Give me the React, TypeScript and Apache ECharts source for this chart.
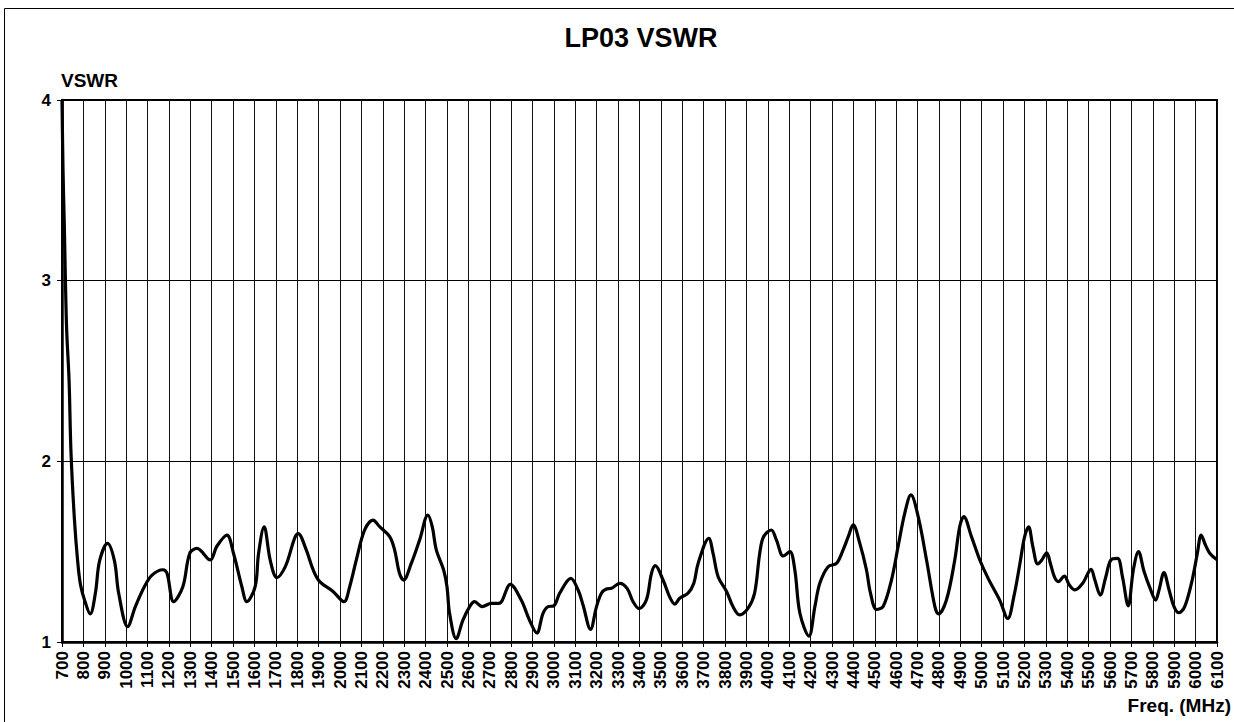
import React, { useEffect, useRef } from "react";
import * as echarts from "echarts";

const title = "LP03 VSWR";
const yName = "VSWR";
const xName = "Freq. (MHz)";

const freq = [
  700, 705, 711, 716, 722, 733, 742, 758, 773, 786, 806, 832, 856, 876, 913, 945, 965, 1007,
  1043, 1085, 1121, 1172, 1191, 1222, 1265, 1297, 1331, 1393, 1424, 1471, 1502, 1541, 1564,
  1603, 1619, 1645, 1674, 1705, 1744, 1805, 1842, 1874, 1905, 1967, 2018, 2045, 2076, 2115,
  2154, 2185, 2232, 2255, 2278, 2297, 2333, 2372, 2411, 2431, 2450, 2484, 2500, 2512, 2543,
  2574, 2606, 2629, 2665, 2707, 2743, 2796, 2847, 2886, 2920, 2949, 2973, 2999, 3027, 3079,
  3113, 3136, 3171, 3199, 3222, 3245, 3269, 3308, 3342, 3370, 3398, 3432, 3456, 3474, 3510,
  3541, 3565, 3588, 3627, 3654, 3674, 3724, 3744, 3768, 3807, 3837, 3868, 3907, 3938, 3962,
  3980, 4016, 4040, 4072, 4103, 4126, 4150, 4192, 4220, 4243, 4282, 4321, 4352, 4376, 4399,
  4430, 4461, 4480, 4508, 4539, 4578, 4609, 4640, 4669, 4703, 4742, 4781, 4798, 4835, 4874,
  4897, 4916, 4952, 4991, 5030, 5084, 5122, 5150, 5178, 5200, 5219, 5239, 5262, 5281, 5304,
  5321, 5340, 5358, 5386, 5410, 5436, 5472, 5511, 5529, 5554, 5580, 5604, 5635, 5658, 5685,
  5709, 5733, 5759, 5790, 5813, 5829, 5852, 5876, 5899, 5922, 5949, 5984, 6008, 6026, 6046,
  6067, 6100,
];

const vswr = [
  4.0, 3.6, 3.3, 3.0, 2.72, 2.45, 2.05, 1.68, 1.45, 1.32, 1.23, 1.155, 1.27, 1.45, 1.546, 1.45,
  1.27, 1.085, 1.196, 1.306, 1.37, 1.4, 1.38, 1.223, 1.306, 1.49, 1.518, 1.454, 1.53, 1.592,
  1.49, 1.306, 1.223, 1.306, 1.49, 1.638, 1.45, 1.356, 1.417, 1.6, 1.51, 1.4, 1.334, 1.28,
  1.223, 1.306, 1.454, 1.62, 1.675, 1.638, 1.583, 1.51, 1.38, 1.343, 1.435, 1.565, 1.703,
  1.638, 1.51, 1.4, 1.306, 1.159, 1.018, 1.12, 1.196, 1.223, 1.196, 1.214, 1.214, 1.319,
  1.232, 1.12, 1.05, 1.159, 1.196, 1.2, 1.27, 1.352, 1.288, 1.205, 1.07, 1.196, 1.27, 1.293,
  1.297, 1.325, 1.297, 1.223, 1.185, 1.232, 1.38, 1.4225, 1.343, 1.25, 1.21, 1.242, 1.27,
  1.325, 1.435, 1.574, 1.49, 1.36, 1.28, 1.196, 1.15, 1.186, 1.27, 1.49, 1.583, 1.62, 1.565,
  1.476, 1.5, 1.4, 1.159, 1.033, 1.196, 1.325, 1.417, 1.435, 1.51, 1.583, 1.648, 1.546, 1.4,
  1.27, 1.18, 1.196, 1.343, 1.528, 1.712, 1.814, 1.694, 1.454, 1.196, 1.155, 1.232, 1.454,
  1.638, 1.694, 1.583, 1.454, 1.352, 1.232, 1.13, 1.25, 1.43, 1.58, 1.638, 1.528, 1.432,
  1.454, 1.494, 1.435, 1.36, 1.334, 1.365, 1.315, 1.288, 1.325, 1.402, 1.343, 1.26, 1.36,
  1.454, 1.463, 1.36, 1.2, 1.4, 1.5, 1.39, 1.288, 1.232, 1.288, 1.384, 1.288, 1.196, 1.162,
  1.196, 1.343, 1.49, 1.592, 1.537, 1.49, 1.455,
];

const FONT = "Arial, 'Liberation Sans', sans-serif";

export default function App() {
  const ref = useRef<HTMLDivElement>(null);

  useEffect(() => {
    if (!ref.current) return;
    const chart = echarts.init(ref.current, null, { renderer: "svg" });
    const data = freq.map((f, i) => [f, vswr[i]]);
    chart.setOption({
      animation: false,
      backgroundColor: "#ffffff",
      textStyle: { fontFamily: FONT },
      grid: {
        left: 62,
        top: 100,
        width: 1155,
        height: 542,
        show: true,
        borderColor: "#000",
        borderWidth: 2,
        backgroundColor: "transparent",
      },
      xAxis: {
        type: "value",
        min: 700,
        max: 6100,
        interval: 100,
        axisLine: { show: true, lineStyle: { color: "#000", width: 2.5 } },
        axisTick: { show: true, inside: false, length: 5, lineStyle: { color: "#000", width: 1 } },
        axisLabel: {
          rotate: 90,
          margin: 9,
          color: "#000",
          fontWeight: "bold",
          fontSize: 17,
          fontFamily: FONT,
          showMinLabel: true,
          showMaxLabel: true,
          hideOverlap: false,
          formatter: (v: number) => String(v),
        },
        splitLine: { show: true, lineStyle: { color: "#111", width: 1 } },
      },
      yAxis: {
        type: "value",
        min: 1,
        max: 4,
        interval: 1,
        axisLine: { show: true, lineStyle: { color: "#000", width: 2.5 } },
        axisTick: { show: true, inside: false, length: 5, lineStyle: { color: "#000", width: 1 } },
        axisLabel: {
          margin: 11,
          color: "#000",
          fontWeight: "bold",
          fontSize: 17,
          fontFamily: FONT,
        },
        splitLine: { show: true, lineStyle: { color: "#000", width: 1 } },
      },
      series: [
        {
          type: "line",
          data,
          smooth: 0.35,
          showSymbol: false,
          symbol: "none",
          lineStyle: { color: "#000", width: 3.2 },
          z: 5,
        },
      ],
      graphic: [
        {
          type: "rect",
          shape: { x: 4.5, y: 8.5, width: 1300, height: 800 },
          style: { fill: "none", stroke: "#000", lineWidth: 1 },
          silent: true,
          z: 0,
        },
        {
          type: "text",
          x: 641,
          y: 38,
          style: {
            text: title,
            fill: "#000",
            font: `bold 27px ${FONT}`,
            textAlign: "center",
            textVerticalAlign: "middle",
          },
        },
        {
          type: "text",
          x: 61,
          y: 80,
          style: {
            text: yName,
            fill: "#000",
            font: `bold 19px ${FONT}`,
            textAlign: "left",
            textVerticalAlign: "middle",
          },
        },
        {
          type: "text",
          x: 1231,
          y: 705,
          style: {
            text: xName,
            fill: "#000",
            font: `bold 19px ${FONT}`,
            textAlign: "right",
            textVerticalAlign: "middle",
          },
        },
      ],
    });
    return () => chart.dispose();
  }, []);

  return (
    <div
      ref={ref}
      style={{ position: "absolute", left: 0, top: 0, width: 1234, height: 722, background: "#fff" }}
    />
  );
}
